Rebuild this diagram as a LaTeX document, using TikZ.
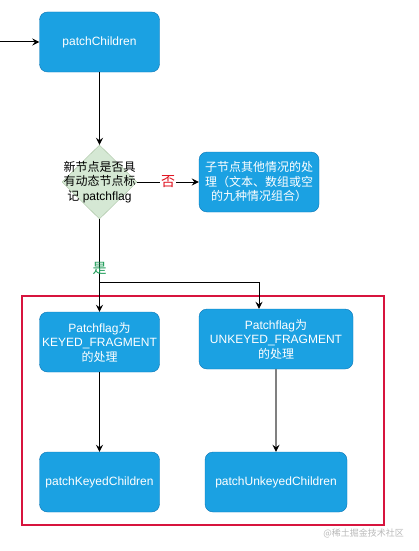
\documentclass[tikz,border=0pt]{standalone}
\usepackage{fontspec}
\setmainfont{Liberation Sans}
\newfontfamily\cjk{Noto Sans CJK SC}
\newcommand{\zh}[1]{{\cjk #1}}
\usepackage{tikz}
\usetikzlibrary{arrows.meta, shapes.geometric}
\definecolor{boxblue}{HTML}{1BA1E2}
\definecolor{boxedge}{HTML}{0B75B5}
\definecolor{decidefill}{HTML}{D5E8D4}
\definecolor{decideedge}{HTML}{A9C2A2}
\definecolor{framered}{HTML}{D7143E}
\definecolor{nored}{HTML}{E0101E}
\definecolor{yesgreen}{HTML}{1A9A55}

\begin{document}
\begin{tikzpicture}
    [x=1pt, y=-1pt,
     block/.style={draw=boxedge, fill=boxblue, rounded corners=8pt, text=white, align=center,
                   minimum width=120pt, minimum height=60pt, inner sep=0pt,
                   font=\fontsize{12}{14.5}\selectfont},
     decide/.style={draw=decideedge, fill=decidefill, diamond, minimum width=75pt,
                    minimum height=74pt, inner sep=0pt},
     decidetext/.style={align=center, inner sep=0pt, font=\fontsize{12}{14.5}\selectfont},
     flow/.style={draw, line width=1pt, -{Stealth[length=7pt, width=7pt, inset=2.5pt]}},
     flowgray/.style={draw=gray, line width=1.2pt, -{Stealth[length=7pt, width=7pt, inset=2.5pt, color=black]}},
     frame/.style={draw=framered, line width=1.5pt, minimum width=362pt, minimum height=229pt, inner sep=0pt},
     nolabel/.style={text=nored, fill=white, inner sep=1pt, font=\fontsize{14}{14}\selectfont},
     yeslabel/.style={text=yesgreen, inner sep=0pt, font=\fontsize{14}{14}\selectfont}]

    \useasboundingbox (0,0) rectangle (418,551);

    % red group
    \node[frame] (group) at (203,410.5) {};

    \coordinate (entry) at (0,42);
    \node[block] (children) at (99.5,42) {patchChildren};
    \node[decide] (flag) at (99.5,182) {};
    \node[decidetext] (flagtext) at (flag) {\zh{新节点是否具}\\\zh{有动态节点标}\\\zh{记} patchflag};
    \node[block] (other) at (259,182) {\zh{子节点其他情况的处}\\\zh{理（文本、数组或空}\\\zh{的九种情况组合）}};

    \coordinate (fork) at (99.5,282);
    \coordinate (forkr) at (259,282);

    \node[block] (keyed) at (99.5,342) {Patchflag\zh{为}\\KEYED\_FRAGMENT\\\zh{的处理}};
    \node[block, minimum width=154pt] (unkeyed) at (276,339) {Patchflag\zh{为}\\UNKEYED\_FRAGMENT\\\zh{的处理}};
    \node[block] (keyedchildren) at (99.5,482) {patchKeyedChildren};
    \node[block, minimum width=142pt] (unkeyedchildren) at (276,482) {patchUnkeyedChildren};

    \node[anchor=east, text=gray!55, inner sep=0pt, font=\fontsize{9}{9}\selectfont] (mark) at (404,533) {\zh{@稀土掘金技术社区}};

    \draw[flow] (entry) -- (children.west);
    \draw[flow] (children.south) -- (flag.north);
    \draw[flow] (flag.east) -- node[nolabel] (no) {\zh{否}} (other.west);
    \draw[line width=1pt] (flag.south) -- node[yeslabel, pos=0.78] (yes) {\zh{是}} (fork);
    \draw[flow] (fork) -- (keyed.north);
    \draw[flow] (fork) -- (forkr) -- (forkr |- unkeyed.north);
    \draw[flow] (keyed.south) -- (keyedchildren.north);
    \draw[flowgray] (unkeyed.south) -- (unkeyedchildren.north);
\end{tikzpicture}
\end{document}
